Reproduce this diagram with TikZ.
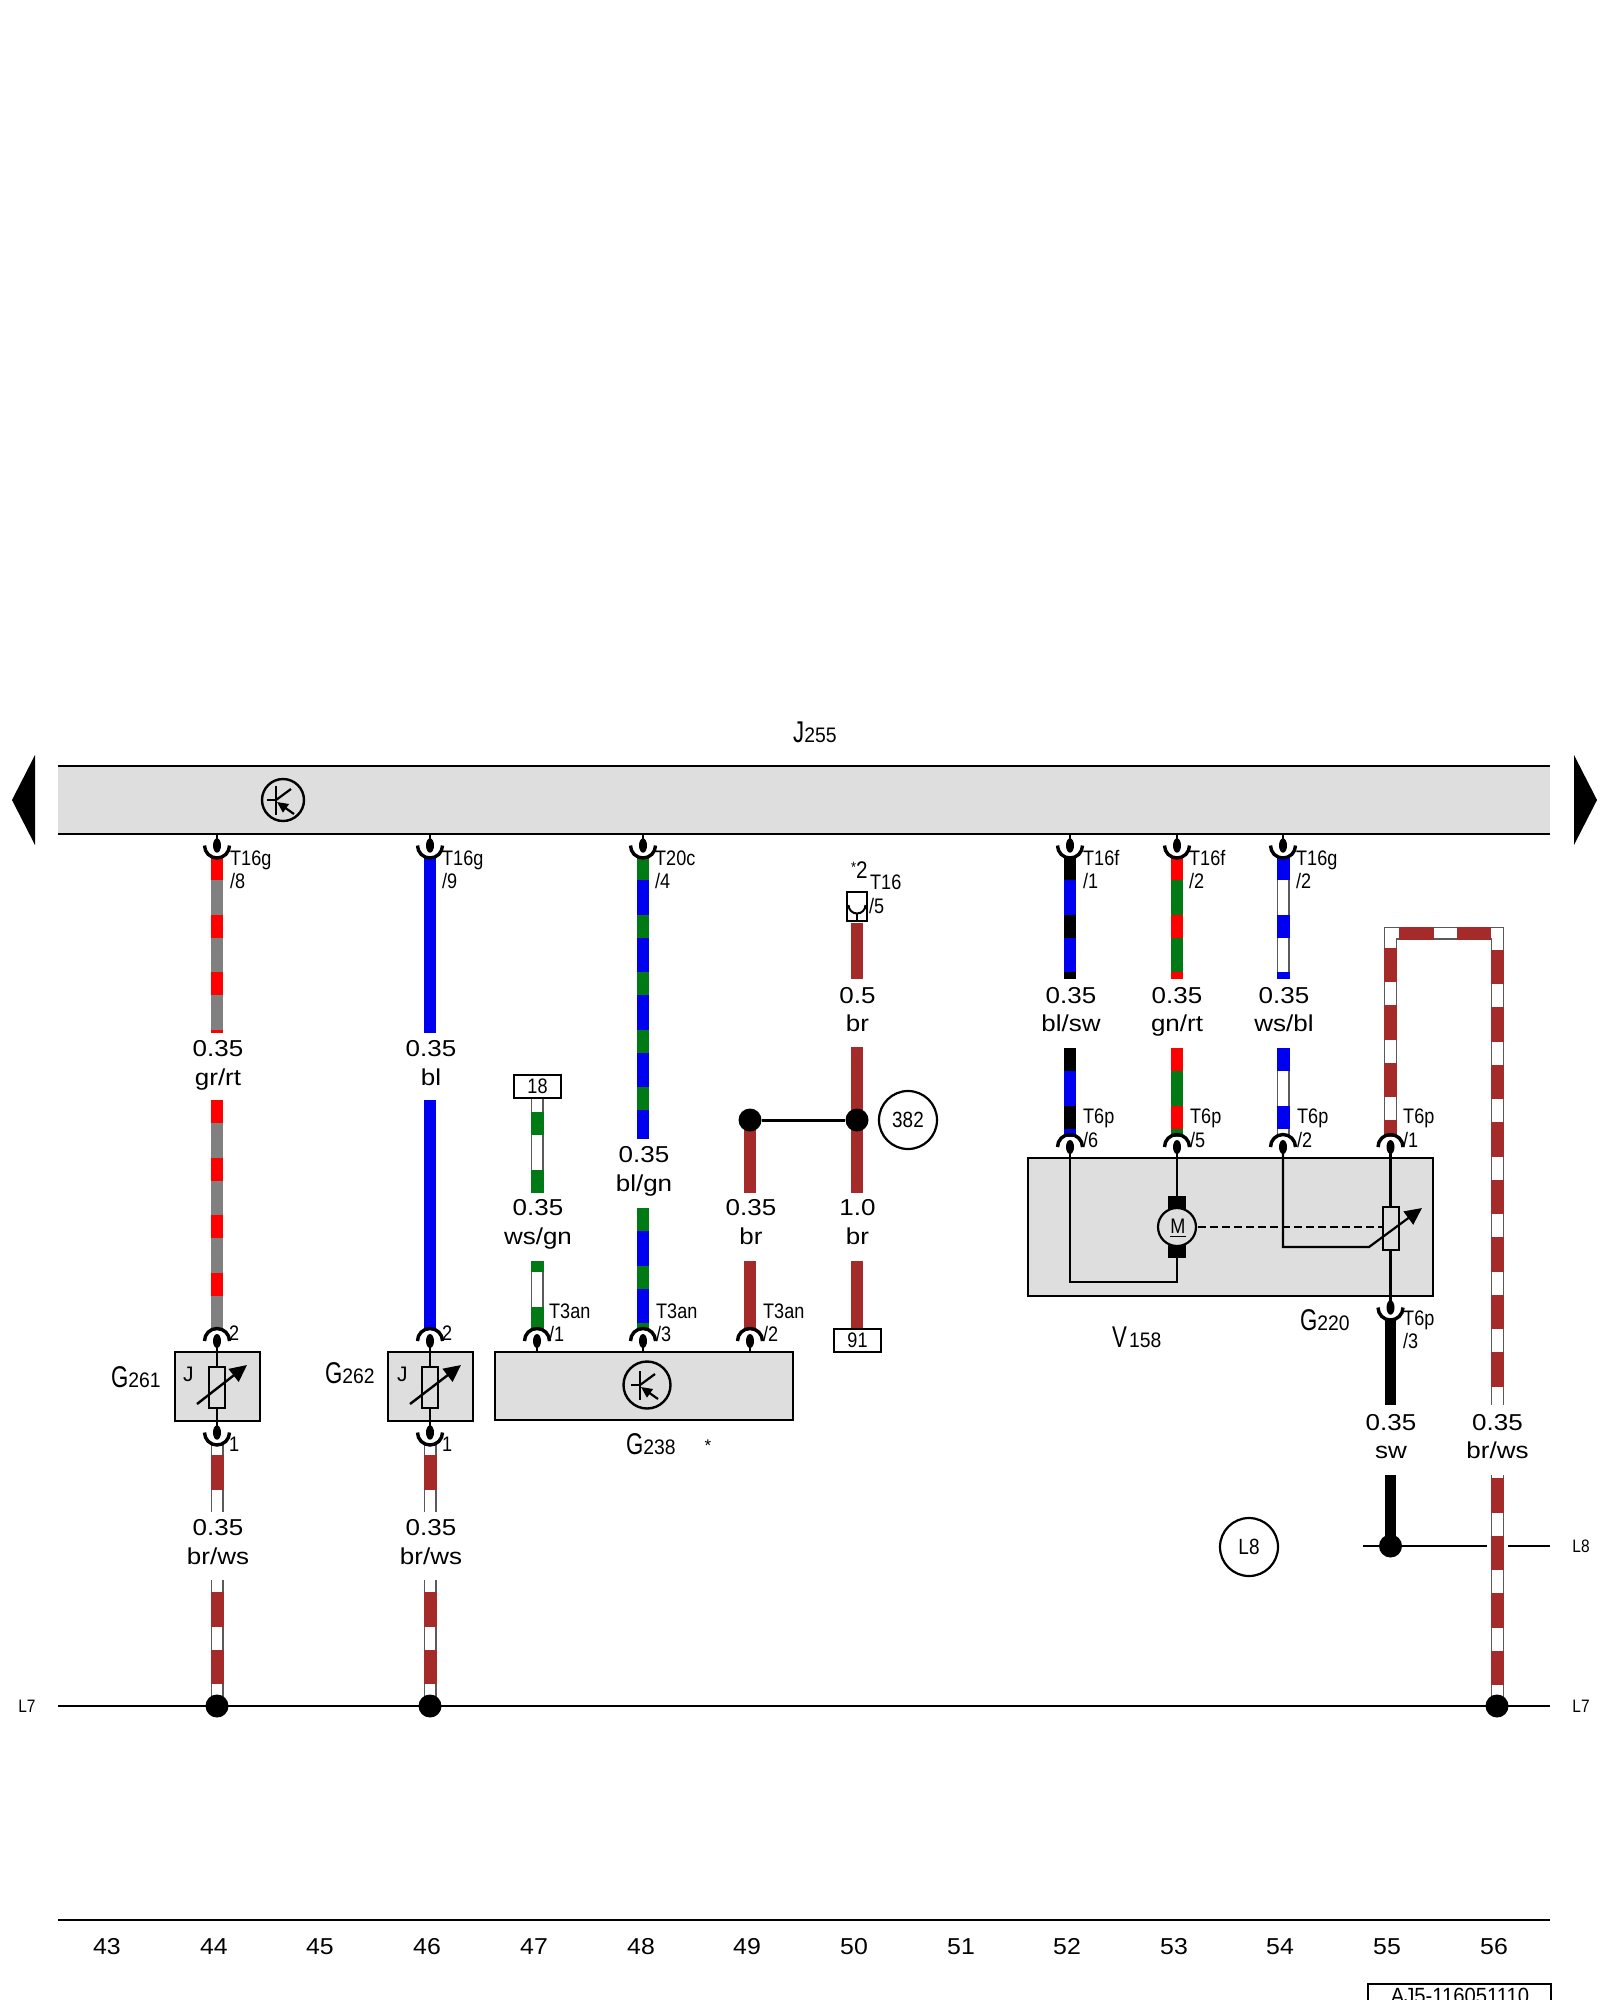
\documentclass[tikz,border=0pt]{standalone}
\usepackage{fontspec}
\usetikzlibrary{arrows.meta,shapes.geometric}
\setmainfont{Liberation Sans}
\newfontfamily\condf[FakeStretch=0.86]{Liberation Sans}
\newfontfamily\condd[FakeStretch=0.92]{Liberation Sans}
\newfontfamily\condg[FakeStretch=0.74]{Liberation Sans}
\newfontfamily\widef[FakeStretch=1.13]{Liberation Sans}
\newfontfamily\axisf[FakeStretch=1.08]{Liberation Sans}
\definecolor{wred}{HTML}{FF0000}
\definecolor{wgray}{HTML}{808080}
\definecolor{wedge}{HTML}{5A5A5A}
\definecolor{wblue}{HTML}{0000F0}
\definecolor{wgreen}{HTML}{007A14}
\definecolor{wbrown}{HTML}{A52A2A}
\definecolor{boxgray}{HTML}{DEDEDE}
\newcommand\fs[1]{\fontsize{#1}{#1}\selectfont}
% name, x, y1, y2, on length, phase, colour A, colour B
\newcommand\TwoWire[8]{%
  \coordinate (#1-t) at (#2,#3); \coordinate (#1-b) at (#2,#4);
  \draw[line width=11.5pt,draw=#8] (#1-t) -- (#1-b);
  \draw[line width=11.5pt,draw=#7,dash pattern=on #5pt off {57.5-#5}pt,dash phase=#6pt] (#1-t) -- (#1-b);}
% name, x, y1, y2, on length, phase, colour
\newcommand\WhiteWire[7]{%
  \coordinate (#1-t) at (#2,#3); \coordinate (#1-b) at (#2,#4);
  \draw[line width=13pt,draw=wedge] (#1-t) -- (#1-b);
  \draw[line width=10.8pt,draw=white] (#1-t) -- (#1-b);
  \draw[line width=13pt,draw=#7,dash pattern=on #5pt off {57.5-#5}pt,dash phase=#6pt] (#1-t) -- (#1-b);}
\newcommand\PlainWire[5]{%
  \coordinate (#1-t) at (#2,#3); \coordinate (#1-b) at (#2,#4);
  \draw[line width=11.5pt,draw=#5] (#1-t) -- (#1-b);}
% connector on the upper side of a box: name, x, box edge y
\newcommand\ConnAbove[3]{%
  \coordinate (#1) at (#2,#3-11); \coordinate (#1-e) at (#2,#3);
  \draw[thin line] (#1-e) -- (#1);
  \fill (#1) ellipse[x radius=4pt,y radius=7pt];
  \draw[pinarc] (#1) ++(-12.5,0) arc[start angle=180,end angle=0,radius=12.5pt];}
% connector on the lower side of a box
\newcommand\ConnBelow[3]{%
  \coordinate (#1) at (#2,#3+11.5); \coordinate (#1-e) at (#2,#3);
  \draw[thin line] (#1-e) -- (#1);
  \fill (#1) ellipse[x radius=4pt,y radius=7.2pt];
  \draw[pinarc] (#1) ++(-12.5,0) arc[start angle=180,end angle=360,radius=12.5pt];}
% name, x, baseline 1, baseline 2, text 1, text 2
\newcommand\WireLabel[6]{%
  \node[wlabel] (#1-s) at (#2,#3) {#5};
  \node[wlabel] (#1-c) at (#2,#4) {#6};}
% name, x, baseline1, baseline2, text1, text2
\newcommand\PinLabel[6]{%
  \node[plabel] (#1-a) at (#2,#3) {#5};
  \node[plabel] (#1-b) at (#2,#4) {#6};}
\newcommand\Tag[2]{{\fs{30}\condg #1}{\fs{21}\condd #2}}
% transistor: name, x, y, r
\newcommand\Transistor[4]{%
  \node[circle,draw,line width=2.4pt,minimum size=2*#4 pt,inner sep=0pt,fill=boxgray] (#1) at (#2,#3) {};
  \draw[line width=2.2pt] (#2-7,#3-14) -- (#2-7,#3+15);
  \draw[line width=2.2pt] (#2-16,#3) -- (#2-7,#3);
  \draw[line width=2.2pt] (#2-7,#3) -- (#2+8,#3-11);
  \draw[line width=2.2pt,-{Triangle[length=11pt,width=10pt]}] (#2+11,#3+14) -- (#2-6,#3+2);}
% sensor: name, box left x, wire x, J x, arrow start x, arrow tip x
\newcommand\Sensor[6]{%
  \node[compbox,minimum width=85pt,minimum height=69pt] (#1) at (#2+42.5,1386.5) {};
  \node[inner sep=0pt,anchor=base west,font=\fs{21}] (#1-J) at (#4,1381) {J};
  \coordinate (#1-t) at (#3,1352); \coordinate (#1-u) at (#3,1421);
  \draw[thin line] (#1-t) -- (#1-u);
  \node[draw,line width=2pt,fill=boxgray,minimum width=16.5pt,minimum height=41pt,inner sep=0pt] (#1-R) at (#3,1387.5) {};
  \coordinate (#1-a) at (#5,1404); \coordinate (#1-h) at (#6,1365);
  \draw[line width=2.4pt,-{Triangle[length=17pt,width=16pt]}] (#1-a) -- (#1-h);}
\tikzset{
  thin line/.style={line width=2.2pt},
  rail/.style={line width=2.8pt},
  pinarc/.style={line width=3.4pt},
  wlabel/.style={inner sep=0pt,anchor=base,font=\fs{23}\widef},
  plabel/.style={inner sep=0pt,anchor=base west,font=\fs{21}\condf},
  tag/.style={inner sep=0pt,anchor=base west},
  compbox/.style={draw,line width=2.4pt,fill=boxgray,inner sep=0pt},
  numbox/.style={draw,line width=2.4pt,fill=white,inner sep=0pt,font=\fs{21}\condf},
  ring/.style={circle,draw,line width=2.2pt,minimum size=58pt,inner sep=0pt,font=\fs{22}\condf},
  junction/.style={circle,fill=black,minimum size=23pt,inner sep=0pt},
  axisnum/.style={inner sep=0pt,anchor=base,font=\fs{23}\axisf},
  lineend/.style={inner sep=0pt,font=\fs{18}\condf},
}
\begin{document}
\begin{tikzpicture}[x=1pt,y=-1pt,line join=miter]
\clip (0,0) rectangle (1600,2000);
\fill[white] (0,0) rectangle (1600,2000);

% ---------- control unit bar
\fill[boxgray] (58,766) rectangle (1550,834);
\coordinate (barTL) at (58,766); \coordinate (barTR) at (1550,766);
\coordinate (barBL) at (58,834); \coordinate (barBR) at (1550,834);
\draw[rail] (barTL) -- (barTR);
\draw[rail] (barBL) -- (barBR);
\fill (12,800) -- (35,755) -- (35,845) -- cycle;
\fill (1597,800) -- (1574,755) -- (1574,845) -- cycle;
\Transistor{tJ}{283}{800}{21}
\node[tag] (J255) at (793,742) {\Tag{J}{255}};

% ---------- wires, upper runs
\TwoWire{w44a}{217}{857}{1033}{23}{0}{wred}{wgray}
\TwoWire{w44b}{217}{1100}{1329}{23}{0}{wred}{wgray}
\PlainWire{w46a}{430}{857}{1033}{wblue}
\PlainWire{w46b}{430}{1100}{1329}{wblue}
\WhiteWire{w47a}{537}{1098}{1193}{23}{43.5}{wgreen}
\WhiteWire{w47b}{537}{1261}{1330}{23}{12}{wgreen}
\TwoWire{w48a}{643}{857}{1139}{23}{0}{wgreen}{wblue}
\TwoWire{w48b}{643}{1208}{1330}{23}{0}{wgreen}{wblue}
\PlainWire{w49a}{750}{1120}{1193}{wbrown}
\PlainWire{w49b}{750}{1261}{1330}{wbrown}
\PlainWire{w50a}{857}{923}{979}{wbrown}
\PlainWire{w50b}{857}{1047}{1193}{wbrown}
\PlainWire{w50c}{857}{1261}{1330}{wbrown}
\TwoWire{w52a}{1070}{857}{979}{23}{0}{black}{wblue}
\TwoWire{w52b}{1070}{1048}{1137}{23}{0}{black}{wblue}
\TwoWire{w53a}{1177}{857}{979}{23}{0}{wred}{wgreen}
\TwoWire{w53b}{1177}{1048}{1137}{23}{0}{wred}{wgreen}
\WhiteWire{w54a}{1283}{857}{979}{23}{0}{wblue}
\WhiteWire{w54b}{1283}{1048}{1137}{23}{0}{wblue}

% ---------- br/ws loop
\coordinate (loopA) at (1390.5,1137);
\coordinate (loopB) at (1390.5,933);
\coordinate (loopC) at (1497.5,933);
\coordinate (loopD) at (1497.5,1405);
\draw[line width=13pt,draw=wedge] (loopA) -- (loopB) -- (loopC) -- (loopD);
\draw[line width=10.8pt,draw=white] (loopA) -- (loopB) -- (loopC) -- (loopD);
\draw[line width=13pt,draw=wbrown,dash pattern=on 34.5pt off 23pt,dash phase=17.5pt] (loopA) -- (loopB) -- (loopC) -- (loopD);

% ---------- wires, lower runs
\PlainWire{w55a}{1390.5}{1318}{1405}{black}
\PlainWire{w55b}{1390.5}{1475}{1546}{black}
\WhiteWire{w56b}{1497.5}{1475}{1706}{34.5}{54.5}{wbrown}
\WhiteWire{w44c}{217}{1444}{1512}{34.5}{46.5}{wbrown}
\WhiteWire{w44d}{217}{1580}{1706}{34.5}{45.5}{wbrown}
\WhiteWire{w46c}{430}{1444}{1512}{34.5}{46.5}{wbrown}
\WhiteWire{w46d}{430}{1580}{1706}{34.5}{45.5}{wbrown}

% ---------- earth / supply lines
\coordinate (L7l) at (58,1706); \coordinate (L7r) at (1550,1706);
\draw[rail] (L7l) -- (L7r);
\coordinate (L8a) at (1363,1546); \coordinate (L8b) at (1487,1546);
\coordinate (L8c) at (1508,1546); \coordinate (L8d) at (1550,1546);
\draw[rail] (L8a) -- (L8b);
\draw[rail] (L8c) -- (L8d);
\node[junction] (j44) at (217,1706) {};
\node[junction] (j46) at (430,1706) {};
\node[junction] (j56) at (1497,1706) {};
\node[junction] (j55) at (1390.5,1546) {};
\node[junction] (j49) at (750,1120) {};
\node[junction] (j50) at (857,1120) {};
\draw[line width=3pt] (j49) -- (j50);
\node[lineend] (tL7a) at (27,1706) {L7};
\node[lineend] (tL7b) at (1581,1706) {L7};
\node[lineend] (tL8) at (1581,1546) {L8};
\node[ring] (rL8) at (1249,1547) {L8};
\node[ring] (r382) at (908,1120) {382};

% ---------- connectors at the bar
\ConnBelow{c44}{217}{834}
\ConnBelow{c46}{430}{834}
\ConnBelow{c48}{643}{834}
\ConnBelow{c52}{1070}{834}
\ConnBelow{c53}{1177}{834}
\ConnBelow{c54}{1283}{834}
\PinLabel{p44}{230}{865}{888}{T16g}{/8}
\PinLabel{p46}{442}{865}{888}{T16g}{/9}
\PinLabel{p48}{655}{865}{888}{T20c}{/4}
\PinLabel{p52}{1083}{865}{888}{T16f}{/1}
\PinLabel{p53}{1189}{865}{888}{T16f}{/2}
\PinLabel{p54}{1296}{865}{888}{T16g}{/2}

% ---------- T16 socket
\node[draw,line width=2.4pt,fill=white,minimum width=20pt,minimum height=29pt,inner sep=0pt] (sock) at (857,906.5) {};
\coordinate (sockc) at (857,905);
\draw[line width=2pt] (sockc) ++(-8.5,0) arc[start angle=180,end angle=360,radius=8.5pt];
\coordinate (socks) at (857,913.5); \coordinate (socke) at (857,921);
\draw[line width=2pt] (socks) -- (socke);
\node[plabel] (st2) at (851,878) {{\fs{15}\raisebox{6pt}{*}}{\fs{24}\condf 2}};
\node[plabel] (sT) at (870,889) {T16};
\node[plabel] (s5) at (869,913) {/5};

% ---------- terminals
\node[numbox,minimum width=47pt,minimum height=23pt] (n18) at (537.5,1086.5) {18};
\node[numbox,minimum width=47pt,minimum height=23pt] (n91) at (857.5,1340.5) {91};

% ---------- sensors G261, G262
\Sensor{g261}{175}{217}{183}{197}{247}
\Sensor{g262}{388}{430}{397}{410}{461}
\ConnAbove{c44u}{217}{1352}
\ConnBelow{c44l}{217}{1421}
\ConnAbove{c46u}{430}{1352}
\ConnBelow{c46l}{430}{1421}
\node[plabel] (t2a) at (229,1340) {2};
\node[plabel] (t1a) at (229,1451) {1};
\node[plabel] (t2b) at (442,1340) {2};
\node[plabel] (t1b) at (442,1451) {1};
\node[tag] (G261) at (111,1387) {\Tag{G}{261}};
\node[tag] (G262) at (325,1383) {\Tag{G}{262}};

% ---------- G238
\node[compbox,minimum width=298pt,minimum height=68pt] (g238) at (644,1386) {};
\Transistor{tG}{647}{1385}{23.5}
\ConnAbove{c47}{537}{1352}
\ConnAbove{c48u}{643}{1352}
\ConnAbove{c49}{750}{1352}
\PinLabel{p47}{549}{1318}{1341}{T3an}{/1}
\PinLabel{p48u}{656}{1318}{1341}{T3an}{/3}
\PinLabel{p49}{763}{1318}{1341}{T3an}{/2}
\node[tag] (G238) at (626,1454) {\Tag{G}{238}};
\node[inner sep=0pt,anchor=base,font=\fs{17}] (star) at (708,1451) {*};

% ---------- V158 / G220 box
\node[compbox,minimum width=405pt,minimum height=138pt] (vbox) at (1230.5,1227) {};
\coordinate (v1) at (1070,1147); \coordinate (v2) at (1070,1282); \coordinate (v3) at (1177,1282);
\coordinate (v4) at (1177,1258);
\draw[thin line] (v1) -- (v2) -- (v3) -- (v4);
\coordinate (v5) at (1177,1147); \coordinate (v6) at (1177,1196);
\draw[thin line] (v5) -- (v6);
\fill (1168,1196) rectangle (1186,1258);
\node[circle,draw,line width=2.2pt,fill=boxgray,minimum size=38pt,inner sep=0pt] (motor) at (1177,1227) {};
\node[inner sep=0pt,anchor=base,font=\fs{21}\condf] (motorM) at (1178,1233) {M};
\coordinate (mu1) at (1170,1236.5); \coordinate (mu2) at (1186,1236.5);
\draw[line width=1.6pt] (mu1) -- (mu2);
\coordinate (v7) at (1283,1147); \coordinate (v8) at (1283,1247); \coordinate (v9) at (1369,1247);
\coordinate (v10) at (1422,1208);
\coordinate (v11) at (1390.5,1147); \coordinate (v12) at (1390.5,1296);
\draw[thin line] (v11) -- (v12);
\node[draw,line width=2pt,fill=boxgray,minimum width=16pt,minimum height=43pt,inner sep=0pt] (rG) at (1391,1228.5) {};
\coordinate (d1) at (1198,1227); \coordinate (d2) at (1383,1227);
\draw[line width=2.2pt,dash pattern=on 8pt off 4pt] (d1) -- (d2);
\draw[thin line,-{Triangle[length=17pt,width=16pt]}] (v7) -- (v8) -- (v9) -- (v10);
\ConnAbove{c52u}{1070}{1158}
\ConnAbove{c53u}{1177}{1158}
\ConnAbove{c54u}{1283}{1158}
\ConnAbove{c55u}{1390.5}{1158}
\ConnBelow{c55l}{1390.5}{1296}
\PinLabel{p52u}{1083}{1123}{1147}{T6p}{/6}
\PinLabel{p53u}{1190}{1123}{1147}{T6p}{/5}
\PinLabel{p54u}{1297}{1123}{1147}{T6p}{/2}
\PinLabel{p55u}{1403}{1123}{1147}{T6p}{/1}
\PinLabel{p55l}{1403}{1325}{1348}{T6p}{/3}
\node[tag] (V158) at (1112,1347) {{\fs{30}\condg V}\hspace{2pt}{\fs{21}\condd 158}};
\node[tag] (G220) at (1300,1330) {\Tag{G}{220}};

% ---------- wire labels
\WireLabel{l44}{218}{1056}{1085}{0.35}{gr/rt}
\WireLabel{l46}{431}{1056}{1085}{0.35}{bl}
\WireLabel{l47}{538}{1215}{1244}{0.35}{ws/gn}
\WireLabel{l48}{644}{1162}{1191}{0.35}{bl/gn}
\WireLabel{l49}{751}{1215}{1244}{0.35}{br}
\WireLabel{l50a}{857.5}{1003}{1031}{0.5}{br}
\WireLabel{l50b}{857.5}{1215}{1244}{1.0}{br}
\WireLabel{l52}{1071}{1003}{1031}{0.35}{bl/sw}
\WireLabel{l53}{1177}{1003}{1031}{0.35}{gn/rt}
\WireLabel{l54}{1284}{1003}{1031}{0.35}{ws/bl}
\WireLabel{l55}{1391}{1430}{1458}{0.35}{sw}
\WireLabel{l56}{1497.5}{1430}{1458}{0.35}{br/ws}
\WireLabel{l44b}{218}{1535}{1564}{0.35}{br/ws}
\WireLabel{l46b}{431}{1535}{1564}{0.35}{br/ws}

% ---------- bottom axis
\coordinate (axL) at (58,1920); \coordinate (axR) at (1550,1920);
\draw[rail] (axL) -- (axR);
\foreach \n/\xx in {43/107,44/214,45/320,46/427,47/534,48/641,49/747,50/854,51/961,52/1067,53/1174,54/1280,55/1387,56/1494}
  \node[axisnum] (ax\n) at (\xx,1954) {\n};
\draw[line width=2.4pt] (1368,2012) -- (1368,1984) -- (1551,1984) -- (1551,2012);
\node[inner sep=0pt,anchor=base,font=\fs{22}\condd] (docid) at (1460,2003) {AJ5-116051110};
\end{tikzpicture}
\end{document}
